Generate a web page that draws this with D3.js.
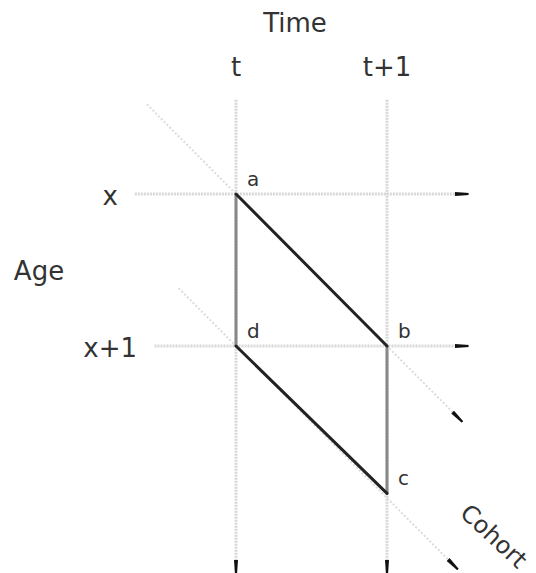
<!DOCTYPE html>
<html><head><meta charset="utf-8">
<script src="https://cdn.jsdelivr.net/npm/d3@7"></script>
<style>body{margin:0;background:#fff}svg{display:block}text{font-family:"DejaVu Sans",Verdana,sans-serif;fill:#333}</style>
</head><body><svg id="c" width="536" height="573"></svg>
<script>
// data (time units, age units)
const timeTicks = [{v:0,label:"t"},{v:1,label:"t+1"}];
const ageTicks = [{v:0,label:"x"},{v:1,label:"x+1"}];
const timeLines = [{t:0,a0:-0.62,a1:2.5},{t:1,a0:-0.62,a1:2.5}];
const ageLines = [{a:0,t0:-0.67,t1:1.54},{a:1,t0:-0.54,t1:1.54}];
const cohortLines = [{c:0,t0:-0.59,t1:1.5},{c:1,t0:-0.38,t1:1.47}];
const points = [{n:"a",t:0,a:0},{n:"b",t:1,a:1},{n:"c",t:1,a:1.97},{n:"d",t:0,a:1}];
const grayEdges = [["a","d"],["b","c"]];
const darkEdges = [["a","b"],["d","c"]];

const svg = d3.select("#c");
const x = d3.scaleLinear().domain([0,1]).range([236,387]);
const y = d3.scaleLinear().domain([0,1]).range([194,346]);

const defs = svg.append("defs");
defs.append("marker").attr("id","arr").attr("viewBox","0 0 14 6").attr("refX",14).attr("refY",3)
  .attr("markerWidth",14).attr("markerHeight",6).attr("markerUnits","userSpaceOnUse").attr("orient","auto")
  .append("path").attr("d","M0,1L14,2L14,4L0,5Z").attr("fill","#111");

const g = svg.append("g");
g.selectAll(".tl").data(timeLines).join("line")
  .attr("x1",d=>x(d.t)).attr("x2",d=>x(d.t)).attr("y1",d=>y(d.a0)).attr("y2",d=>y(d.a1))
  .attr("stroke","#d8d8d8").attr("stroke-width",3).attr("stroke-dasharray","2,1").attr("marker-end","url(#arr)");
g.selectAll(".al").data(ageLines).join("line")
  .attr("x1",d=>x(d.t0)).attr("x2",d=>x(d.t1)).attr("y1",d=>y(d.a)).attr("y2",d=>y(d.a))
  .attr("stroke","#d8d8d8").attr("stroke-width",3).attr("stroke-dasharray","2,1").attr("marker-end","url(#arr)");
g.selectAll(".cl").data(cohortLines).join("line")
  .attr("x1",d=>x(d.t0)).attr("x2",d=>x(d.t1)).attr("y1",d=>y(d.t0+d.c)).attr("y2",d=>y(d.t1+d.c))
  .attr("stroke","#dcdcdc").attr("stroke-width",2).attr("stroke-dasharray","2,2").attr("marker-end","url(#arr)");

const P = Object.fromEntries(points.map(p=>[p.n,p]));
g.selectAll(".ge").data(grayEdges).join("line")
  .attr("x1",d=>x(P[d[0]].t)).attr("y1",d=>y(P[d[0]].a)).attr("x2",d=>x(P[d[1]].t)).attr("y2",d=>y(P[d[1]].a))
  .attr("stroke","#888").attr("stroke-width",3);
g.selectAll(".de").data(darkEdges).join("line")
  .attr("x1",d=>x(P[d[0]].t)).attr("y1",d=>y(P[d[0]].a)).attr("x2",d=>x(P[d[1]].t)).attr("y2",d=>y(P[d[1]].a))
  .attr("stroke","#222").attr("stroke-width",3).attr("stroke-linecap","round");

g.selectAll(".pl").data(points).join("text")
  .attr("x",d=>x(d.t)+11).attr("y",d=>y(d.a)-8).attr("font-size",20).text(d=>d.n);

svg.append("text").attr("x",295).attr("y",32).attr("text-anchor","middle").attr("font-size",26).text("Time");
svg.selectAll(".tt").data(timeTicks).join("text").attr("x",d=>x(d.v)).attr("y",76)
  .attr("text-anchor","middle").attr("font-size",26).text(d=>d.label);
svg.selectAll(".at").data(ageTicks).join("text").attr("x",d=>d.v===0?118:137).attr("y",d=>y(d.v)+11)
  .attr("text-anchor","end").attr("font-size",26).text(d=>d.label);
svg.append("text").attr("x",39).attr("y",280).attr("text-anchor","middle").attr("font-size",26).text("Age");
svg.append("text").attr("transform","translate(494,536) rotate(43)").attr("text-anchor","middle")
  .attr("dy","0.35em").attr("font-size",24).text("Cohort");
</script></body></html>
